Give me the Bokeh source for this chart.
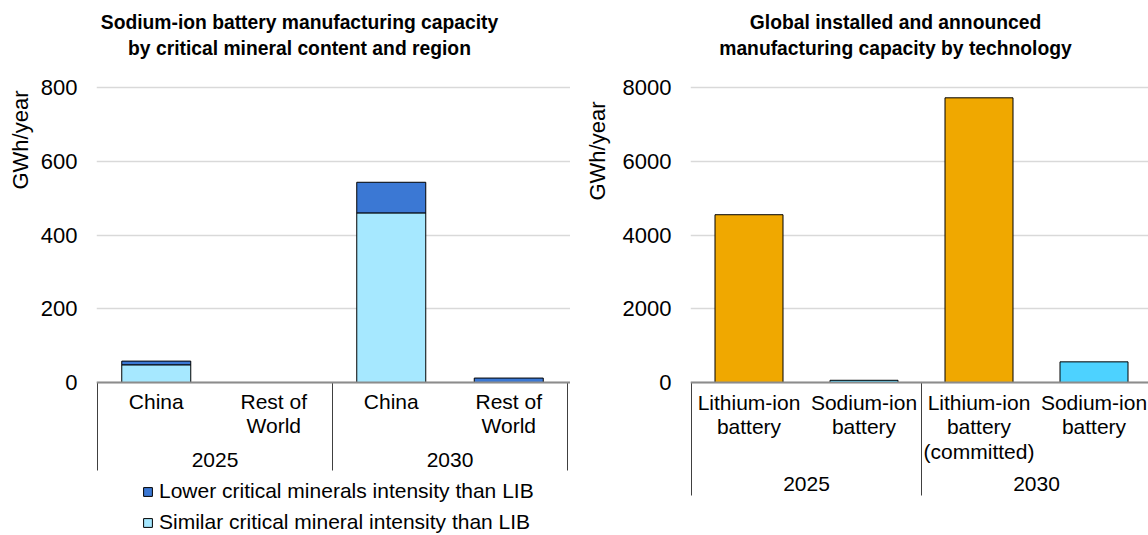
from bokeh.plotting import figure
from bokeh.models import Range1d, FixedTicker, Legend, LegendItem, ColumnDataSource, Span, Title
from bokeh.layouts import row
from bokeh.embed import file_html
from bokeh.resources import INLINE
from bokeh.core.properties import value

FONT = "Liberation Sans"

# ---------------- data: left chart ----------------
left_title = ["Sodium-ion battery manufacturing capacity", "by critical mineral content and region"]
left_years = ["2025", "2030"]
left_regions = ["China", "Rest of\nWorld", "China", "Rest of\nWorld"]
similar_intensity = [48, 0, 460, 0]
lower_intensity = [10, 0, 83, 12]
left_ticks = [0, 200, 400, 600, 800]
series_names = ["Lower critical minerals intensity than LIB",
                "Similar critical mineral intensity than LIB"]

# ---------------- data: right chart ----------------
right_title = ["Global installed and announced", "manufacturing capacity by technology"]
right_years = ["2025", "2030"]
right_techs = ["Lithium-ion\nbattery", "Sodium-ion\nbattery",
               "Lithium-ion\nbattery\n(committed)", "Sodium-ion\nbattery"]
capacity = [4550, 60, 7720, 560]
right_ticks = [0, 2000, 4000, 6000, 8000]
y_label = "GWh/year"

# ---------------- styles ----------------
C_LIGHT = "#a6e8ff"
C_DARK = "#3b78d4"
C_ORANGE = "#f0a800"
C_CYAN = "#4dd2ff"
GRID = "#d9d9d9"
AXIS = "#8c8c8c"
SEP = "#404040"
TXT = "#000000"
FS = "21px"
FS_TICK = "22px"
FS_TITLE = "19.3px"

H = 535
FRAME_TOP = 0
FRAME_BOTTOM = H
ZERO_Y = 382                 # pixel of value 0
TOPTICK_Y = 87               # pixel of top tick
TITLE_Y = [21.5, 48]         # pixel centres of the two title lines


def make_fig(width, border_left, border_right, slot_px, top_value):
    frame_w = width - border_left - border_right
    ppu = (ZERO_Y - TOPTICK_Y) / top_value
    y_end = top_value + (TOPTICK_Y - FRAME_TOP) / ppu
    y_start = -(FRAME_BOTTOM - ZERO_Y) / ppu
    x_start = -1.0 / slot_px
    x_end = (frame_w - 1.0) / slot_px
    p = figure(width=width, height=H, output_backend="svg", toolbar_location=None,
               x_range=Range1d(x_start, x_end), y_range=Range1d(y_start, y_end),
               x_axis_location=None, min_border_left=border_left,
               min_border_right=border_right, min_border_top=0,
               min_border_bottom=0)
    p.outline_line_color = None
    p.background_fill_color = "white"
    p.border_fill_color = "white"
    for g in p.xgrid:
        g.grid_line_color = None
    return p, ppu


def style_yaxis(p, ticks):
    ax = p.yaxis[0]
    ax.ticker = FixedTicker(ticks=ticks)
    ax.axis_line_color = None
    ax.major_tick_line_color = None
    ax.minor_tick_line_color = None
    ax.major_tick_out = 0
    ax.major_label_standoff = 19
    ax.major_label_text_font = FONT
    ax.major_label_text_font_size = FS_TICK
    ax.major_label_text_color = TXT
    p.ygrid[0].ticker = FixedTicker(ticks=ticks)
    p.ygrid[0].grid_line_color = GRID
    p.ygrid[0].grid_line_width = 1.5


def add_titles(p, ppu, slot_px, lines, title_cx_px, ylab_offset, ylab_standoff):
    cx = (title_cx_px) / slot_px
    p.text(x=[cx, cx], y=[(ZERO_Y - ty) / ppu for ty in TITLE_Y], text=lines,
           text_align="center", text_baseline="middle", text_font=value(FONT),
           text_font_size=FS_TITLE, text_font_style="bold", text_color=TXT)
    p.add_layout(Title(text=y_label, align="right", offset=ylab_offset,
                       standoff=ylab_standoff, text_font=FONT, text_font_size=FS_TICK,
                       text_font_style="normal", text_color=TXT), "left")


def add_category_axis(p, ppu, cats, years, first_off, pitch, year_off, sep_len, sep_xs):
    xs, ys, ts = [], [], []
    for i, c in enumerate(cats):
        for j, line in enumerate(c.split("\n")):
            xs.append(i + 0.5)
            ys.append(-(first_off + j * pitch) / ppu)
            ts.append(line)
    for k, yr in enumerate(years):
        xs.append(2 * k + 1.0)
        ys.append(-year_off / ppu)
        ts.append(yr)
    p.text(x="x", y="y", text="t", source=ColumnDataSource(dict(x=xs, y=ys, t=ts)),
           text_align="center", text_baseline="middle", text_font=value(FONT),
           text_font_size=FS, text_color=TXT)
    p.segment(x0=sep_xs, x1=sep_xs, y0=[0] * len(sep_xs),
              y1=[-sep_len / ppu] * len(sep_xs), line_color=SEP, line_width=1)
    p.add_layout(Span(location=0, dimension="width", line_color=AXIS, line_width=2))


# ================= LEFT =================
L_W, L_BL, L_BR = 570, 96, 0
L_SLOT = 117.5
p1, ppu1 = make_fig(L_W, L_BL, L_BR, L_SLOT, left_ticks[-1])
style_yaxis(p1, left_ticks)

src1 = ColumnDataSource(dict(x=[i + 0.5 for i in range(len(left_regions))],
                             similar=similar_intensity, lower=lower_intensity))
rs = p1.vbar_stack(["similar", "lower"], x="x", width=69 / L_SLOT, source=src1,
                   color=[C_LIGHT, C_DARK], line_color="black", line_width=1)
for r, c in zip(rs, [C_LIGHT, C_DARK]):
    r.glyph.fill_color = c
    r.glyph.line_color = "black"

add_category_axis(p1, ppu1, left_regions, left_years, 18.5, 24, 77, 88, [0, 2, 4])
add_titles(p1, ppu1, L_SLOT, left_title, 299 - (L_BL + 1), 90, 9)

legend = Legend(items=[LegendItem(label=series_names[0], renderers=[rs[1]]),
                       LegendItem(label=series_names[1], renderers=[rs[0]])],
                location=(142 - L_BL, 1), orientation="vertical",
                glyph_width=11, glyph_height=11, label_standoff=6, spacing=7,
                padding=0, margin=0, border_line_color=None,
                background_fill_alpha=0, label_text_font=FONT,
                label_text_font_size=FS, label_text_color=TXT, label_height=20)
p1.add_layout(legend, "center")

# ================= RIGHT =================
R_W, R_BL, R_BR = 578, 120, 0
R_SLOT = 115.0
R_FRAME_X0 = L_W + R_BL + 1
p2, ppu2 = make_fig(R_W, R_BL, R_BR, R_SLOT, right_ticks[-1])
style_yaxis(p2, right_ticks)

bar_colors = [C_ORANGE if t.startswith("Lithium") else C_CYAN for t in right_techs]
src2 = ColumnDataSource(dict(x=[i + 0.5 for i in range(len(right_techs))],
                             top=capacity, color=bar_colors))
p2.vbar(x="x", top="top", bottom=0, width=68 / R_SLOT, source=src2,
        fill_color="color", line_color="black", line_width=1)

add_category_axis(p2, ppu2, right_techs, right_years, 19.5, 24.5, 101, 113, [0, 2, 4])
add_titles(p2, ppu2, R_SLOT, right_title, 895 - R_FRAME_X0, 101, 20)

layout = row(p1, p2)
open("out.html", "w").write(file_html(layout, INLINE))
